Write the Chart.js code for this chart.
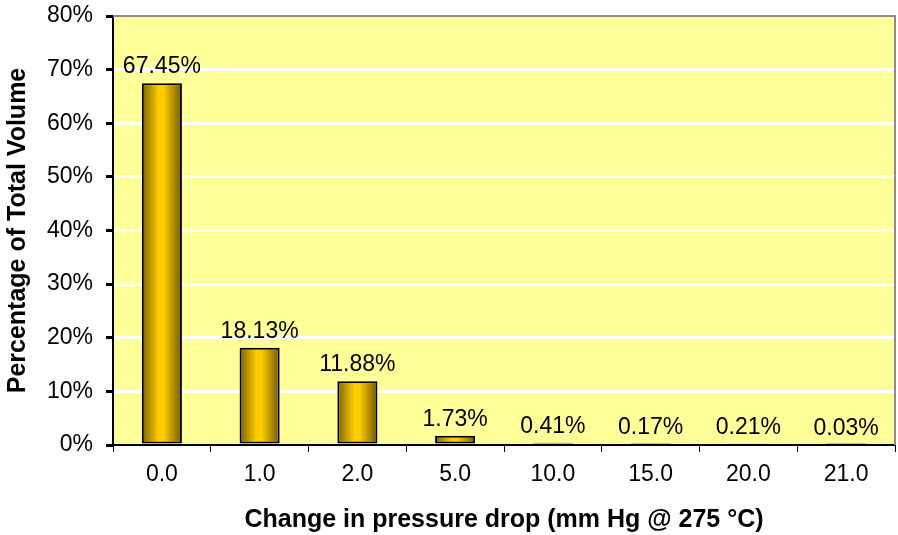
<!DOCTYPE html>
<html>
<head>
<meta charset="utf-8">
<script src="https://cdn.jsdelivr.net/npm/chart.js@4"></script>
<style>
  html, body { margin: 0; padding: 0; background: #ffffff; }
  #wrap { width: 898px; height: 535px; }
</style>
</head>
<body>
<div id="wrap"><canvas id="c" width="898" height="535"></canvas></div>
<script>
// Distribution of total volume by change in pressure drop
const categories = ['0.0', '1.0', '2.0', '5.0', '10.0', '15.0', '20.0', '21.0'];
const volumePct = [67.45, 18.13, 11.88, 1.73, 0.41, 0.17, 0.21, 0.03];
const yTicks = [0, 10, 20, 30, 40, 50, 60, 70, 80];

const xTitle = 'Change in pressure drop (mm Hg @ 275 °C)';
const yTitle = 'Percentage of Total Volume';

const FONT = '"Liberation Sans", Arial, sans-serif';
const BAR_FRACTION = 0.41;

// Pale yellow plot background with grey top/right frame
const plotFrame = {
  id: 'plotFrame',
  beforeDraw(chart) {
    const { ctx, chartArea: a } = chart;
    ctx.save();
    ctx.fillStyle = '#ffff99';
    ctx.fillRect(a.left, a.top, a.right - a.left, a.bottom - a.top);
    ctx.restore();
  },
  afterDraw(chart) {
    const { ctx, chartArea: a } = chart;
    ctx.save();
    ctx.strokeStyle = '#8c8c8c';
    ctx.lineWidth = 2;
    ctx.beginPath();
    ctx.moveTo(a.left, a.top);
    ctx.lineTo(a.right, a.top);
    ctx.lineTo(a.right, a.bottom);
    ctx.stroke();
    ctx.restore();
  }
};

// Value labels above the bars, and the two axis titles
const annotations = {
  id: 'annotations',
  afterDatasetsDraw(chart) {
    const ctx = chart.ctx;
    const ds = chart.data.datasets[0];
    ctx.save();
    ctx.font = '23px ' + FONT;
    ctx.fillStyle = '#000';
    ctx.textAlign = 'center';
    ctx.textBaseline = 'alphabetic';
    chart.getDatasetMeta(0).data.forEach((bar, i) => {
      ctx.fillText(ds.data[i].toFixed(2) + '%', bar.x, bar.y - 10);
    });
    ctx.restore();
  },
  afterDraw(chart) {
    const { ctx, chartArea: a } = chart;
    ctx.save();
    ctx.fillStyle = '#000';
    ctx.font = 'bold 25px ' + FONT;
    ctx.textAlign = 'center';
    ctx.textBaseline = 'alphabetic';
    ctx.fillText(xTitle, (a.left + a.right) / 2, 527);
    ctx.translate(25, (a.top + a.bottom) / 2);
    ctx.rotate(-Math.PI / 2);
    ctx.fillText(yTitle, 0, 0);
    ctx.restore();
  }
};

// Horizontal shading across a bar: dark edges, bright gold centre
function barGradient(context) {
  const chart = context.chart;
  const xs = chart.scales.x;
  if (!xs || !chart.chartArea) return '#ffcc00';
  const cx = xs.getPixelForValue(context.dataIndex);
  const w = (xs.width / categories.length) * BAR_FRACTION;
  const g = chart.ctx.createLinearGradient(cx - w / 2, 0, cx + w / 2, 0);
  g.addColorStop(0, '#7a6200');
  g.addColorStop(0.42, '#ffcc00');
  g.addColorStop(0.55, '#ffcc00');
  g.addColorStop(1, '#6e5800');
  return g;
}

new Chart(document.getElementById('c'), {
  type: 'bar',
  data: {
    labels: categories,
    datasets: [{
      data: volumePct,
      backgroundColor: barGradient,
      borderColor: '#000000',
      borderWidth: 2,
      borderSkipped: false,
      barPercentage: BAR_FRACTION,
      categoryPercentage: 1.0
    }]
  },
  options: {
    responsive: false,
    animation: false,
    layout: { padding: { top: 16, right: 3, left: 0, bottom: 0 } },
    plugins: { legend: { display: false }, tooltip: { enabled: false } },
    scales: {
      x: {
        offset: true,
        afterFit(scale) { scale.height = 90; },
        border: { display: true, color: '#000', width: 2 },
        grid: { offset: true, drawOnChartArea: false, tickColor: '#000', tickLength: 7, lineWidth: 1 },
        ticks: { color: '#000', font: { family: FONT, size: 23 }, padding: 9 }
      },
      y: {
        min: 0,
        max: 80,
        afterBuildTicks(scale) { scale.ticks = yTicks.map(v => ({ value: v })); },
        afterFit(scale) {
          scale.width = 113;
          scale.paddingTop = 0;
          scale.paddingBottom = 0;
        },
        border: { display: true, color: '#000', width: 2 },
        grid: {
          color: ctx => (ctx.tick && (ctx.tick.value === 0 || ctx.tick.value === 80)) ? 'rgba(0,0,0,0)' : '#ffffff',
          lineWidth: 3,
          tickColor: '#000',
          tickLength: 7
        },
        ticks: {
          color: '#000',
          font: { family: FONT, size: 23 },
          padding: 13,
          callback: v => v + '%'
        }
      }
    }
  },
  plugins: [plotFrame, annotations]
});
</script>
</body>
</html>
